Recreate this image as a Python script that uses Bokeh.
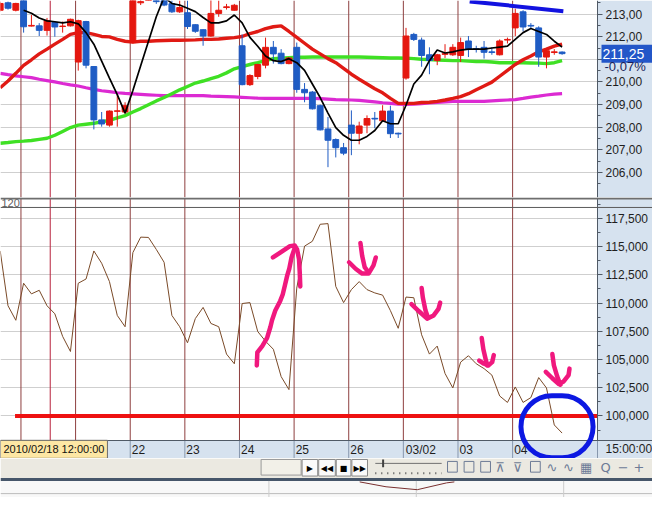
from bokeh.plotting import figure
from bokeh.models import Range1d, FixedTicker, Label, BoxAnnotation, Span, ColumnDataSource
from bokeh.layouts import column
from bokeh.embed import file_html
from bokeh.resources import INLINE
from bokeh.core.properties import value

# ---------------- data ----------------
first_bar = -3
opens = [213.17, 213.50, 213.17, 213.70, 212.47, 212.48, 212.28, 212.63, 212.45, 212.48,
         210.88, 212.67, 210.68, 208.32, 208.09, 208.70, 208.67, 211.74, 213.50, 213.75,
         213.80, 213.60, 213.46, 213.10, 213.06, 212.53, 212.31, 212.03, 213.03, 213.29,
         213.17, 211.60, 209.88, 210.24, 210.74, 211.53, 211.27, 210.81, 211.53, 209.67,
         209.55, 208.95, 207.92, 207.45, 207.09, 208.09, 207.73, 208.09, 208.39, 208.28,
         208.71, 207.73, 210.17, 212.10, 211.85, 211.20, 210.95, 211.22, 211.20, 211.17,
         211.81, 211.47, 211.53, 211.33, 211.20, 211.85, 212.39, 213.10, 212.50, 212.39,
         211.10, 211.30, 211.32]
highs = [213.55, 213.55, 213.50, 213.80, 212.96, 212.60, 212.83, 212.65, 212.67, 212.80,
         212.75, 212.70, 210.70, 208.67, 208.74, 209.45, 209.10, 214.10, 213.80, 214.10,
         213.90, 213.70, 213.60, 213.60, 213.60, 212.55, 212.33, 213.70, 213.60, 213.45,
         213.45, 212.10, 210.34, 210.80, 211.96, 211.81, 211.45, 211.10, 211.74, 209.95,
         209.60, 209.00, 208.45, 207.50, 207.30, 208.74, 208.24, 208.52, 208.67, 208.97,
         208.95, 207.76, 212.39, 212.17, 211.96, 211.53, 211.24, 211.67, 211.67, 211.96,
         212.03, 211.60, 211.81, 211.53, 211.88, 211.96, 213.24, 213.17, 212.60, 212.46,
         211.45, 211.45, 211.35]
lows = [213.12, 213.20, 213.12, 212.18, 212.45, 212.03, 212.05, 212.00, 212.18, 212.45,
        210.50, 210.60, 207.90, 208.02, 208.02, 208.02, 208.60, 211.70, 213.40, 213.60,
        213.45, 213.35, 213.05, 213.05, 212.34, 212.17, 211.60, 212.00, 212.88, 213.20,
        213.15, 209.85, 209.82, 210.12, 210.60, 210.81, 210.78, 210.78, 209.52, 209.10,
        208.78, 207.85, 206.23, 206.66, 206.76, 206.76, 207.24, 207.73, 207.95, 208.25,
        207.52, 207.52, 210.10, 211.81, 210.67, 210.34, 210.74, 211.06, 211.15, 210.88,
        211.10, 211.30, 211.03, 211.20, 211.17, 211.70, 212.03, 212.24, 212.39, 210.67,
        210.60, 211.20, 211.20]
closes = [213.47, 213.26, 213.47, 212.44, 212.50, 212.28, 212.71, 212.43, 212.47, 212.77,
          212.71, 210.74, 208.32, 208.14, 208.71, 208.72, 208.95, 214.00, 213.55, 214.00,
          213.55, 213.40, 213.10, 213.29, 212.45, 212.24, 212.03, 213.03, 213.17, 213.32,
          213.39, 209.88, 210.28, 210.77, 211.53, 211.24, 210.81, 211.06, 209.67, 209.52,
          208.81, 207.88, 207.42, 207.09, 206.85, 207.73, 208.05, 208.38, 208.36, 208.71,
          207.71, 207.70, 212.03, 211.88, 211.17, 210.95, 211.20, 211.25, 211.53, 211.74,
          211.46, 211.44, 211.31, 211.30, 211.81, 211.88, 213.03, 212.43, 212.47, 211.10,
          211.38, 211.33, 211.25]

ma_red = [209.74, 210.04, 210.38, 210.73, 210.98, 211.24, 211.45, 211.67, 211.88, 212.10,
          212.18, 212.18, 212.10, 212.01, 211.99, 211.88, 211.80, 211.76, 211.80, 211.80,
          211.82, 211.83, 211.84, 211.84, 211.85, 211.86, 211.88, 211.88, 211.90, 211.93,
          211.96, 212.01, 212.14, 212.23, 212.36, 212.44, 212.48, 212.23, 211.97, 211.71,
          211.45, 211.24, 211.03, 210.85, 210.60, 210.34, 210.12, 209.91, 209.70, 209.52,
          209.27, 209.05, 209.05, 209.05, 209.09, 209.10, 209.14, 209.20, 209.27, 209.35,
          209.48, 209.65, 209.82, 209.99, 210.25, 210.51, 210.77, 210.98, 211.15, 211.33,
          211.45, 211.58, 211.67]
ma_green = [207.29, 207.32, 207.36, 207.38, 207.41, 207.46, 207.51, 207.64, 207.81, 207.98,
            208.09, 208.13, 208.17, 208.24, 208.30, 208.41, 208.51, 208.67, 208.82, 208.99,
            209.16, 209.31, 209.48, 209.65, 209.80, 209.95, 210.04, 210.15, 210.25, 210.40,
            210.58, 210.68, 210.77, 210.85, 210.94, 211.03, 211.05, 211.07, 211.09, 211.09,
            211.10, 211.10, 211.10, 211.10, 211.10, 211.10, 211.10, 211.09, 211.08, 211.07,
            211.06, 211.06, 211.05, 211.03, 211.00, 210.99, 210.97, 210.96, 210.94, 210.94,
            210.92, 210.90, 210.90, 210.88, 210.85, 210.85, 210.85, 210.85, 210.84, 210.83,
            210.81, 210.85, 210.94]
ma_magenta = [210.38, 210.32, 210.27, 210.23, 210.19, 210.12, 210.06, 210.00, 209.93, 209.87,
              209.82, 209.74, 209.67, 209.61, 209.57, 209.52, 209.49, 209.47, 209.45, 209.43,
              209.41, 209.39, 209.39, 209.39, 209.39, 209.39, 209.39, 209.37, 209.36, 209.35,
              209.34, 209.32, 209.30, 209.28, 209.27, 209.27, 209.27, 209.27, 209.27, 209.27,
              209.27, 209.26, 209.24, 209.22, 209.21, 209.20, 209.18, 209.15, 209.12, 209.08,
              209.05, 209.02, 209.01, 209.02, 209.04, 209.07, 209.09, 209.12, 209.14, 209.14,
              209.14, 209.14, 209.14, 209.16, 209.18, 209.20, 209.22, 209.27, 209.33, 209.37,
              209.42, 209.46, 209.48]
black_first_bar = 0
ma_black = [213.17, 213.04, 212.83, 212.70, 212.66, 212.61, 212.66, 212.57, 212.18, 211.67,
            210.92, 210.17, 209.44, 208.62, 209.62, 210.71, 211.80, 212.88, 213.75, 213.47,
            213.40, 213.26, 213.11, 212.85, 212.61, 212.61, 212.70, 212.96, 212.61, 211.97,
            211.58, 211.15, 210.94, 210.90, 211.03, 210.85, 210.51, 209.91, 209.31, 208.62,
            207.98, 207.64, 207.42, 207.42, 207.59, 207.85, 208.28, 208.15, 208.15, 208.97,
            209.91, 210.30, 210.94, 211.41, 211.28, 211.33, 211.41, 211.45, 211.45, 211.45,
            211.50, 211.54, 211.58, 211.88, 212.18, 212.36, 212.23, 212.10, 211.80, 211.54]
osc = [114615, 109761, 108476, 111756, 110814, 111131, 109761, 109050, 107047, 105711,
       111756, 112132, 114615, 113528, 111901, 108904, 107903, 114470, 115840, 115814,
       114752, 113614, 108904, 107903, 106481, 108622, 109615, 108194, 107903, 105480,
       104623, 109958, 110043, 107475, 106618, 105908, 103485, 102337, 111328, 115043,
       115472, 116978, 117038, 111473, 110043, 111191, 111901, 111191, 110899, 110703,
       109333, 107766, 110531, 110471, 107192, 105480, 106190, 103767, 102483, 104769,
       105334, 104623, 104195, 103622, 101772, 101199, 102569, 101199, 101627, 103399,
       102483, 99204, 98485]

days = ["18", "19", "22", "23", "24", "25", "26", "03/02", "03", "04"]
bars_per_day = 7
cursor_bar = 3
price_ticks = [206, 207, 208, 209, 210, 211, 212, 213]
price_tick_labels = ["206,00", "207,00", "208,00", "209,00", "210,00", "", "212,00", "213,00"]
osc_ticks = [100000, 102500, 105000, 107500, 110000, 112500, 115000, 117500]
osc_tick_labels = ["100,000", "102,500", "105,000", "107,500", "110,000", "112,500", "115,000", "117,500"]
last_price = 211.25
last_price_label = "211,25"
change_label = "-0,07%"
cursor_label = "2010/02/18 12:00:00"
session_label = "15:00:00"
panel_label = "120"
osc_level = 100000

# hand-drawn annotations (bar index, value)
trend_x = [57.16, 69.16]
trend_y = [213.56, 213.13]
up_stem_x = [29.88, 29.95, 30.58, 31.2, 31.63, 31.83, 32.25, 32.88, 33.2, 33.5, 33.79, 34.04, 34.33, 34.75]
up_stem_y = [104478, 105625, 106190, 106910, 107903, 108476, 109333, 110189, 110763, 111619, 112475, 113040, 114042, 114898]
up_head_x = [31.95, 32.88, 34.13, 34.75, 35.04, 35.29, 35.38, 35.45]
up_head_y = [114042, 114470, 115043, 115095, 114752, 113896, 112757, 111473]
down_stems_x = [[43.16, 43.38, 43.7, 44.0], [51.0, 51.16, 51.5, 51.79],
                [58.7, 58.91, 59.2, 59.41], [67.75, 67.95, 68.38, 68.79]]
down_stems_y = [[115326, 114187, 113185, 112903], [111328, 110471, 109333, 108759],
                [106910, 105908, 105052, 104478], [105480, 104478, 103485, 102766]]
down_heads_x = [[41.7, 42.54, 43.38, 44.2, 44.83, 45.13], [49.7, 50.66, 51.7, 52.54, 53.16, 53.38],
                [58.38, 59.0, 59.54, 60.04, 60.25], [66.91, 67.75, 68.58, 69.2, 69.83, 69.95]]
down_heads_y = [[113614, 113040, 112612, 112612, 113331, 114042], [109906, 109273, 108622, 108904, 109478, 110043],
                [104906, 104623, 104478, 104769, 105394], [103913, 103339, 102825, 103057, 103622, 104195]]
circle_box = dict(left=63.73, right=72.97, bottom=96300, top=101800)

# ---------------- layout / styles ----------------
W = 652
PX_PER_BAR = 597 / 76.5
X0 = -2.9625                 # left frame edge
X1 = X0 + 76.5               # position of the price / oscillator axis
X_END = X0 + W / PX_PER_BAR  # right edge of the window (axis area inside frame)
P_MIN, P_MAX = 204.888, 213.601
O_MIN, O_BAND, O_MAX = 96233, 97859, 119350
BAND = "#d6e2ef"
FONT = "Liberation Sans"
RED = "#e5170f"
BLUE = "#1f5cc4"
DAYLINE = "#8e3f3f"

bars = list(range(first_bar, first_bar + len(opens)))
colors = [RED if c >= o else BLUE for o, c in zip(opens, closes)]
src = ColumnDataSource(dict(x=bars, o=opens, h=highs, l=lows, c=closes,
                            top=[max(o, c) for o, c in zip(opens, closes)],
                            bot=[min(o, c) for o, c in zip(opens, closes)], col=colors))
day_starts = [first_bar + 3 + bars_per_day * k for k in range(len(days))]
boundaries = [s - 0.34 for s in day_starts]


def make_fig(h, y0, y1, below):
    p = figure(width=W, height=h, x_range=Range1d(X0, X_END), y_range=Range1d(y0, y1),
               output_backend="svg", toolbar_location=None,
               x_axis_location=("below" if below else None), y_axis_location="right", title=None,
               min_border_left=0, min_border_top=0, min_border_right=0, min_border_bottom=0,
               background_fill_color="white", border_fill_color=BAND, outline_line_color=None)
    p.xgrid.visible = False
    return p


def style_right_axis(p, ticks, labels, minor, bounds):
    ax = p.yaxis[0]
    ax.fixed_location = X1
    ax.bounds = bounds
    ax.ticker = FixedTicker(ticks=ticks, minor_ticks=minor)
    ax.major_label_overrides = {t: s for t, s in zip(ticks, labels)}
    ax.major_tick_out = 5
    ax.major_tick_in = 0
    ax.minor_tick_out = 3
    ax.minor_tick_in = 0
    for a in ("axis_line_color", "major_tick_line_color", "minor_tick_line_color"):
        setattr(ax, a, "#505a66")
    ax.major_label_text_font = FONT
    ax.major_label_text_font_size = "12px"
    ax.major_label_text_color = "#1e1e1e"
    ax.major_label_standoff = 3
    p.ygrid.ticker = FixedTicker(ticks=ticks)
    p.ygrid.grid_line_color = "#cfcfcf"


def add_day_lines(p):
    for b in boundaries:
        p.add_layout(Span(location=b, dimension="height", line_color=DAYLINE, line_width=1, level="underlay"))
    p.add_layout(Span(location=cursor_bar + 0.41, dimension="height", line_color="#b8203c",
                      line_width=1, level="underlay"))


# ---------------- price panel ----------------
p1 = make_fig(197, P_MIN, P_MAX, False)
style_right_axis(p1, price_ticks, price_tick_labels, [t + 0.5 for t in [205] + price_ticks], (P_MIN, P_MAX))
add_day_lines(p1)
p1.quad(left=[X1], right=[X_END], bottom=[P_MIN], top=[P_MAX], fill_color=BAND, line_color=None)
p1.line(bars, ma_magenta, color="#dc2ad2", line_width=3.2)
p1.line(bars, ma_green, color="#3fe024", line_width=3.4)
p1.line(bars, ma_red, color="#e01a14", line_width=3.4)
p1.segment(x0="x", y0="l", x1="x", y1="h", color="col", line_width=1, source=src)
p1.vbar(x="x", width=0.75, top="top", bottom="bot", fill_color="col", line_color="col",
        line_width=1, source=src)
black_x = list(range(black_first_bar, black_first_bar + len(ma_black)))
p1.line(black_x, ma_black, color="black", line_width=1.7)
p1.line(trend_x, trend_y, color="#1212e0", line_width=4)
p1.add_layout(Label(x=X1, y=last_price, x_offset=4, text=last_price_label + "   ", text_baseline="middle",
                    text_align="left", text_color="white", text_font=FONT, text_font_size="14px",
                    background_fill_color="#2356c8", padding=1))
p1.add_layout(Label(x=X1, y=last_price - 0.55, x_offset=7, text=change_label, text_baseline="middle",
                    text_align="left", text_color="#1a1f5a", text_font=FONT, text_font_size="13px"))

# ---------------- oscillator panel + date band ----------------
p2 = make_fig(261, O_MIN, O_MAX, True)
style_right_axis(p2, osc_ticks, osc_tick_labels,
                 [t - 1250 for t in osc_ticks] + [osc_ticks[-1] + 1250], (O_BAND, O_MAX))
add_day_lines(p2)
p2.quad(left=[X1], right=[X_END], bottom=[O_BAND], top=[O_MAX], fill_color=BAND, line_color=None)
p2.quad(left=[X0], right=[X_END], bottom=[O_MIN], top=[O_BAND], fill_color=BAND, line_color=None)
sep_x = boundaries + [X1]
p2.segment(x0=sep_x, y0=[O_MIN] * len(sep_x), x1=sep_x, y1=[O_BAND] * len(sep_x),
           color="#8797ad", line_width=1)
p2.add_layout(Span(location=119264, dimension="width", line_color="#6e6e6e", line_width=2))
p2.add_layout(Span(location=118468, dimension="width", line_color="#5a5a5a", line_width=1))
p2.text(x=[X0], y=[118468], text=[panel_label], text_baseline="bottom", text_align="left",
        text_font=value(FONT), text_font_size="11px", text_color="#606060", x_offset=1)
p2.segment(x0=[first_bar + 1.9], y0=[osc_level], x1=[X1], y1=[osc_level], color="#ee1111", line_width=4)
p2.line(bars, osc, color="#7a4a28", line_width=1)

pink = "#f0187e"
p2.multi_line(xs=[up_stem_x, up_head_x] + down_stems_x + down_heads_x,
              ys=[up_stem_y, up_head_y] + down_stems_y + down_heads_y,
              line_color=pink, line_width=4.5, line_cap="round", line_join="round")

xa = p2.xaxis[0]
xa.fixed_location = O_BAND
shown = [(s - 0.34 + (2 + 3.1 * len(d)) / PX_PER_BAR, d) for s, d in zip(day_starts, days)][2:]
xa.ticker = FixedTicker(ticks=[t for t, _ in shown])
xa.major_label_overrides = {t: d for t, d in shown}
xa.major_tick_out = 0
xa.major_tick_in = 0
xa.minor_tick_out = 0
xa.minor_tick_in = 0
xa.minor_tick_line_color = None
xa.major_tick_line_color = None
xa.axis_line_color = "#505a66"
xa.major_label_standoff = 3
xa.major_label_text_font = FONT
xa.major_label_text_font_size = "12px"
xa.major_label_text_color = "#1e1e1e"

band_mid = (O_MIN + O_BAND) / 2
p2.add_layout(Label(x=X0, y=band_mid, text=cursor_label, text_baseline="middle", text_align="left",
                    text_font=FONT, text_font_size="11px", text_color="#111111",
                    background_fill_color="#fde7a4", border_line_color="#6a6a6a", padding=3))
p2.add_layout(Label(x=X1, y=band_mid, x_offset=8, text=session_label, text_baseline="middle",
                    text_align="left", text_font=FONT, text_font_size="12px", text_color="#1e1e1e"))
p2.add_layout(BoxAnnotation(**circle_box, fill_alpha=0, line_color="#0c18e2", line_alpha=1.0,
                            line_width=5, border_radius=31, level="overlay"))

# ---------------- toolbar strip (window chrome) ----------------
p3 = figure(width=W, height=39, x_range=Range1d(0, 668), y_range=Range1d(513, 473),
            output_backend="svg", toolbar_location=None, x_axis_location=None, y_axis_location=None,
            title=None, min_border_left=0, min_border_right=0, min_border_top=0, min_border_bottom=0,
            outline_line_color=None, background_fill_color="white", border_fill_color="white")
p3.grid.visible = False
p3.quad(left=[0, 0, 0], right=[668, 668, 668], top=[473, 493, 496], bottom=[493, 496, 513],
        fill_color=["#ebe9e1", "#46566a", "#f8f8f8"], line_color=None)
p3.segment(x0=[0], y0=[509], x1=[668], y1=[509], color="#bcbcbc")
p3.segment(x0=[275, 426, 577], y0=[496] * 3, x1=[275, 426, 577], y1=[513] * 3, color="#cccccc")
p3.line([368, 395, 427, 457, 465], [497, 502, 505, 498, 497], color="#7a3030", line_width=1)
p3.quad(left=[267], right=[308], top=[474], bottom=[490], fill_color="#f2f0e8", line_color="#9a9a9a")
p3.quad(left=[309, 326, 344, 360], right=[325, 343, 359, 376], top=[474] * 4, bottom=[491] * 4,
        fill_color="#fafafa", line_color="#8a8a8a")
p3.text(x=[317, 334.5, 351.5, 368], y=[483] * 4, text=["▶", "◀◀", "■", "▶▶"], text_align="center",
        text_baseline="middle", text_font=value("DejaVu Sans"), text_font_size="8px", text_color="black")
p3.segment(x0=[384], y0=[478], x1=[452], y1=[478], color="#707070", line_width=1)
p3.segment(x0=[392], y0=[474], x1=[392], y1=[482], color="#404040", line_width=2)
p3.segment(x0=[384], y0=[488], x1=[452], y1=[488], color="#505050", line_width=2, line_dash="1 5")
p3.quad(left=[458, 475, 492, 543], right=[468, 485, 502, 553], top=[476] * 4, bottom=[487] * 4,
        fill_color=None, line_color="#6d7b96")
p3.text(x=[512, 530, 565, 582, 600, 620, 638, 654], y=[482] * 8,
        text=["⊼", "⊽", "∿", "∿", "▦", "Q", "−", "+"], text_align="center", text_baseline="middle",
        text_font=value("DejaVu Sans"), text_font_size="13px", text_color="#6d7b96")

layout = column(p1, p2, p3, spacing=0)
open("out.html", "w").write(file_html(layout, INLINE))
